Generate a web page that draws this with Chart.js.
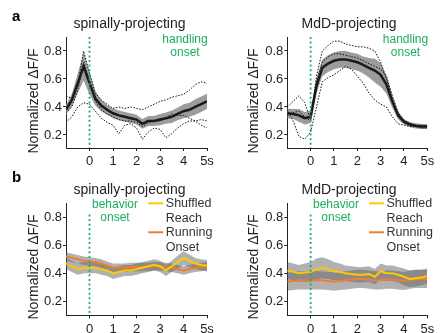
<!DOCTYPE html>
<html>
<head>
<meta charset="utf-8">
<script src="https://cdn.jsdelivr.net/npm/chart.js@4.4.1/dist/chart.umd.min.js"></script>
<style>
  body { margin: 0; background: #fff; }
  #fig { position: relative; width: 441px; height: 333px; overflow: hidden; }
  canvas { position: absolute; }
</style>
</head>
<body>
<div id="fig">
  <canvas id="aLeft" width="220" height="170" style="left:0;top:0"></canvas>
  <canvas id="aRight" width="221" height="170" style="left:220px;top:0"></canvas>
  <canvas id="bLeft" width="220" height="163" style="left:0;top:170px"></canvas>
  <canvas id="bRight" width="221" height="163" style="left:220px;top:170px"></canvas>
</div>
<script>
// Время (с) относительно начала поведения
const time = [-1, -0.75, -0.5, -0.25, 0, 0.25, 0.5, 0.75, 1, 1.25, 1.5, 1.75, 2,
              2.25, 2.5, 2.75, 3, 3.25, 3.5, 3.75, 4, 4.25, 4.5, 4.75, 5];
const xTicks = [0, 1, 2, 3, 4, 5];
const yTicks = [0.2, 0.4, 0.6, 0.8];

// a: spinally-projecting, handling onset
const spinalMean = [0.38, 0.45, 0.57, 0.69, 0.57, 0.46, 0.41, 0.38, 0.355, 0.34, 0.33, 0.32, 0.31,
                    0.28, 0.30, 0.30, 0.31, 0.32, 0.33, 0.35, 0.37, 0.38, 0.40, 0.42, 0.44];
const spinalSem = [0.035, 0.045, 0.07, 0.1, 0.08, 0.05, 0.04, 0.035, 0.035, 0.035, 0.035, 0.035, 0.035,
                   0.035, 0.035, 0.035, 0.04, 0.04, 0.045, 0.045, 0.05, 0.05, 0.055, 0.055, 0.055];
const spinalMouse1 = [0.48, 0.46, 0.56, 0.80, 0.64, 0.50, 0.45, 0.42, 0.39, 0.40, 0.39, 0.40, 0.39,
                      0.38, 0.40, 0.42, 0.44, 0.45, 0.47, 0.48, 0.49, 0.52, 0.56, 0.58, 0.57];
const spinalMouse2 = [0.36, 0.40, 0.52, 0.72, 0.58, 0.44, 0.38, 0.35, 0.33, 0.31, 0.30, 0.30, 0.29,
                      0.26, 0.29, 0.30, 0.30, 0.32, 0.35, 0.34, 0.34, 0.32, 0.30, 0.27, 0.25];
const spinalMouse3 = [0.29, 0.33, 0.40, 0.43, 0.42, 0.37, 0.32, 0.29, 0.27, 0.21, 0.27, 0.28, 0.25,
                      0.17, 0.22, 0.25, 0.24, 0.18, 0.21, 0.25, 0.28, 0.30, 0.30, 0.31, 0.30];

// a: MdD-projecting, handling onset
const mddMean = [0.355, 0.35, 0.34, 0.32, 0.33, 0.55, 0.68, 0.71, 0.73, 0.74, 0.74, 0.73, 0.72,
                 0.70, 0.68, 0.66, 0.63, 0.56, 0.44, 0.34, 0.295, 0.275, 0.265, 0.26, 0.26];
const mddSem = [0.035, 0.035, 0.045, 0.045, 0.045, 0.055, 0.06, 0.06, 0.06, 0.06, 0.06, 0.06, 0.06,
                0.06, 0.07, 0.085, 0.085, 0.065, 0.045, 0.03, 0.02, 0.018, 0.018, 0.018, 0.018];
const mddMouse1 = [0.40, 0.44, 0.48, 0.43, 0.31, 0.62, 0.80, 0.84, 0.87, 0.87, 0.85, 0.84, 0.83,
                   0.83, 0.82, 0.80, 0.72, 0.60, 0.45, 0.34, 0.30, 0.28, 0.27, 0.27, 0.26];
const mddMouse2 = [0.34, 0.36, 0.37, 0.33, 0.30, 0.58, 0.72, 0.76, 0.78, 0.78, 0.77, 0.76, 0.75,
                   0.73, 0.71, 0.69, 0.67, 0.62, 0.48, 0.36, 0.30, 0.28, 0.27, 0.26, 0.27];
const mddMouse3 = [0.38, 0.30, 0.19, 0.17, 0.22, 0.40, 0.58, 0.61, 0.63, 0.66, 0.69, 0.67, 0.62,
                   0.57, 0.50, 0.45, 0.42, 0.40, 0.33, 0.28, 0.27, 0.26, 0.26, 0.25, 0.25];

// b: behavior onset
const spinalReach = [0.47, 0.45, 0.43, 0.44, 0.44, 0.44, 0.43, 0.42, 0.40, 0.41, 0.42, 0.42, 0.43,
                     0.44, 0.45, 0.46, 0.45, 0.42, 0.45, 0.48, 0.51, 0.49, 0.47, 0.46, 0.455];
const spinalReachSem = [0.04, 0.04, 0.04, 0.04, 0.04, 0.04, 0.04, 0.04, 0.04, 0.04, 0.04, 0.04, 0.04,
                        0.04, 0.04, 0.04, 0.04, 0.04, 0.04, 0.045, 0.05, 0.045, 0.04, 0.04, 0.04];
const spinalRun = [0.52, 0.51, 0.50, 0.49, 0.485, 0.48, 0.47, 0.455, 0.44, 0.44, 0.44, 0.445, 0.445,
                   0.445, 0.445, 0.45, 0.45, 0.445, 0.44, 0.43, 0.42, 0.43, 0.44, 0.445, 0.45];
const spinalRunSem = [0.03, 0.03, 0.03, 0.03, 0.03, 0.03, 0.03, 0.03, 0.03, 0.03, 0.03, 0.03, 0.03,
                      0.03, 0.03, 0.03, 0.03, 0.03, 0.03, 0.03, 0.03, 0.03, 0.03, 0.03, 0.03];
const mddReach = [0.42, 0.41, 0.40, 0.405, 0.41, 0.43, 0.44, 0.43, 0.415, 0.41, 0.40, 0.395, 0.39,
                  0.39, 0.395, 0.375, 0.415, 0.40, 0.40, 0.39, 0.375, 0.36, 0.365, 0.37, 0.38];
const mddReachSem = [0.06, 0.06, 0.06, 0.065, 0.07, 0.075, 0.075, 0.07, 0.065, 0.06, 0.055, 0.055, 0.055,
                     0.055, 0.055, 0.055, 0.055, 0.055, 0.055, 0.055, 0.06, 0.06, 0.06, 0.055, 0.055];
const mddRun = [0.34, 0.345, 0.35, 0.35, 0.35, 0.35, 0.35, 0.345, 0.34, 0.345, 0.35, 0.355, 0.36,
                0.36, 0.355, 0.35, 0.35, 0.355, 0.355, 0.35, 0.345, 0.355, 0.36, 0.36, 0.36];
const mddRunSem = [0.065, 0.065, 0.065, 0.065, 0.065, 0.065, 0.065, 0.065, 0.065, 0.065, 0.065, 0.065, 0.065,
                   0.065, 0.065, 0.065, 0.065, 0.065, 0.065, 0.065, 0.065, 0.065, 0.065, 0.065, 0.065];

const GREEN = '#1aaf5d';
const YELLOW = '#ffc800';
const ORANGE = '#f07d32';
const FONT = 'Arial, "Liberation Sans", sans-serif';

Chart.defaults.font.family = FONT;
Chart.defaults.animation = false;

const pts = (ys) => ys.map((y, i) => ({ x: time[i], y: y }));
const shift = (ys, sem, sign) => ys.map((y, i) => ({ x: time[i], y: y + sign * sem[i] }));

function band(mean, sem, color) {
    return [
        { data: shift(mean, sem, 1), borderWidth: 0, pointRadius: 0, fill: '+1', backgroundColor: color, order: 10 },
        { data: shift(mean, sem, -1), borderWidth: 0, pointRadius: 0, fill: false, order: 10 }
    ];
}

function line(ys, color, width, dash) {
    return { data: pts(ys), borderColor: color, borderWidth: width, borderDash: dash || [],
             pointRadius: 0, fill: false, tension: 0, order: dash ? 5 : 0 };
}

// Текст и линия начала поведения
const notesPlugin = {
    id: 'notes',
    afterDatasetsDraw(chart, args, o) {
        const ctx = chart.ctx;
        const xs = chart.scales.x;
        const ys = chart.scales.y;
        ctx.save();
        const x0 = xs.getPixelForValue(0);
        ctx.strokeStyle = GREEN;
        ctx.lineWidth = 1.8;
        ctx.setLineDash([2, 2.6]);
        ctx.beginPath();
        ctx.moveTo(x0, ys.getPixelForValue(o.onsetTop));
        ctx.lineTo(x0, ys.bottom);
        ctx.stroke();
        ctx.setLineDash([]);

        ctx.textBaseline = 'alphabetic';
        ctx.textAlign = 'center';
        ctx.fillStyle = '#222';
        ctx.font = '14px ' + FONT;
        ctx.fillText(o.title, o.titleX, o.titleY);

        if (o.letter) {
            ctx.textAlign = 'left';
            ctx.font = 'bold 15px ' + FONT;
            ctx.fillStyle = '#000';
            ctx.fillText(o.letter, 12, o.letterY);
        }

        ctx.save();
        ctx.translate(o.yTitleX, o.yTitleY);
        ctx.rotate(-Math.PI / 2);
        ctx.textAlign = 'center';
        ctx.textBaseline = 'middle';
        ctx.font = '14px ' + FONT;
        ctx.fillStyle = '#222';
        ctx.fillText('Normalized \u0394F/F', 0, 0);
        ctx.restore();

        ctx.textAlign = 'center';
        ctx.font = '12px ' + FONT;
        ctx.fillStyle = GREEN;
        ctx.fillText(o.onsetText[0], o.onsetX, o.onsetY);
        ctx.fillText(o.onsetText[1], o.onsetX, o.onsetY + 12.5);

        if (o.legend) {
            const L = o.legend;
            ctx.lineWidth = 2;
            [[YELLOW, 'Shuffled', 'Reach', L.y], [ORANGE, 'Running', 'Onset', L.y + 29]].forEach(item => {
                ctx.strokeStyle = item[0];
                ctx.beginPath();
                ctx.moveTo(L.x, item[3]);
                ctx.lineTo(L.x + 15, item[3]);
                ctx.stroke();
                ctx.fillStyle = '#333';
                ctx.textAlign = 'left';
                ctx.font = '12.5px ' + FONT;
                ctx.fillText(item[1], L.x + 17.5, item[3] + 4);
                ctx.fillText(item[2], L.x + 17.5, item[3] + 18.5);
            });
        }
        ctx.restore();
    }
};

function makeChart(id, datasets, p) {
    return new Chart(document.getElementById(id), {
        type: 'line',
        data: { datasets: datasets },
        plugins: [notesPlugin],
        options: {
            responsive: false,
            layout: { padding: { top: p.top, right: p.right, left: 0, bottom: 0 } },
            plugins: { legend: { display: false }, tooltip: { enabled: false }, notes: p.notes },
            scales: {
                x: {
                    type: 'linear', min: -1, max: 5,
                    afterBuildTicks: s => { s.ticks = xTicks.map(v => ({ value: v })); },
                    afterFit: s => { s.height = p.xHeight; },
                    grid: { drawOnChartArea: false, tickLength: 3, color: '#222' },
                    border: { color: '#222', width: 1 },
                    ticks: { color: '#222', font: { size: 13 }, padding: 3, maxRotation: 0, autoSkip: false,
                             callback: v => v === 5 ? '5s' : String(v) }
                },
                y: {
                    min: p.yMin, max: 0.9,
                    afterBuildTicks: s => { s.ticks = yTicks.map(v => ({ value: v })); },
                    afterFit: s => { s.width = p.left; },
                    grid: { drawOnChartArea: false, tickLength: 3, color: '#222' },
                    border: { color: '#222', width: 1 },
                    ticks: { color: '#222', font: { size: 13 }, padding: 1, callback: v => v.toFixed(1) }
                }
            }
        }
    });
}

const grayA = '#9c9c9c';
const grayB = 'rgba(100,100,100,0.5)';

makeChart('aLeft', [
    line(spinalMean, '#1a1a1a', 2.5),
    line(spinalMouse1, '#111', 1, [1.5, 1.5]),
    line(spinalMouse2, '#111', 1, [1.5, 1.5]),
    line(spinalMouse3, '#111', 1, [1.5, 1.5]),
    ...band(spinalMean, spinalSem, grayA)
], { top: 37, right: 13, left: 66, xHeight: 22, yMin: 0.107,
     notes: { title: 'spinally-projecting', titleX: 129.5, titleY: 28, letter: 'a', letterY: 21,
              yTitleX: 34, yTitleY: 101, onsetText: ['handling', 'onset'], onsetX: 185, onsetY: 43, onsetTop: 0.9 } });

makeChart('aRight', [
    line(mddMean, '#1a1a1a', 2.5),
    line(mddMouse1, '#111', 1, [1.5, 1.5]),
    line(mddMouse2, '#111', 1, [1.5, 1.5]),
    line(mddMouse3, '#111', 1, [1.5, 1.5]),
    ...band(mddMean, mddSem, grayA)
], { top: 37, right: 13.7, left: 67.3, xHeight: 22, yMin: 0.107,
     notes: { title: 'MdD-projecting', titleX: 129, titleY: 28,
              yTitleX: 34, yTitleY: 101, onsetText: ['handling', 'onset'], onsetX: 185.5, onsetY: 43, onsetTop: 0.9 } });

makeChart('bLeft', [
    line(spinalReach, YELLOW, 2),
    line(spinalRun, ORANGE, 2),
    ...band(spinalReach, spinalReachSem, grayB),
    ...band(spinalRun, spinalRunSem, grayB)
], { top: 33.3, right: 13, left: 66, xHeight: 17.7, yMin: 0.1,
     notes: { title: 'spinally-projecting', titleX: 129.5, titleY: 24, letter: 'b', letterY: 12,
              yTitleX: 34, yTitleY: 97, onsetText: ['behavior', 'onset'], onsetX: 115, onsetY: 38.3, onsetTop: 0.82,
              legend: { x: 148.3, y: 33.3 } } });

makeChart('bRight', [
    line(mddReach, YELLOW, 2),
    line(mddRun, ORANGE, 2),
    ...band(mddReach, mddReachSem, grayB),
    ...band(mddRun, mddRunSem, grayB)
], { top: 33.3, right: 13.7, left: 67.3, xHeight: 17.7, yMin: 0.1,
     notes: { title: 'MdD-projecting', titleX: 129, titleY: 24,
              yTitleX: 34, yTitleY: 97, onsetText: ['behavior', 'onset'], onsetX: 116, onsetY: 38.3, onsetTop: 0.82,
              legend: { x: 149, y: 33.3 } } });
</script>
</body>
</html>
